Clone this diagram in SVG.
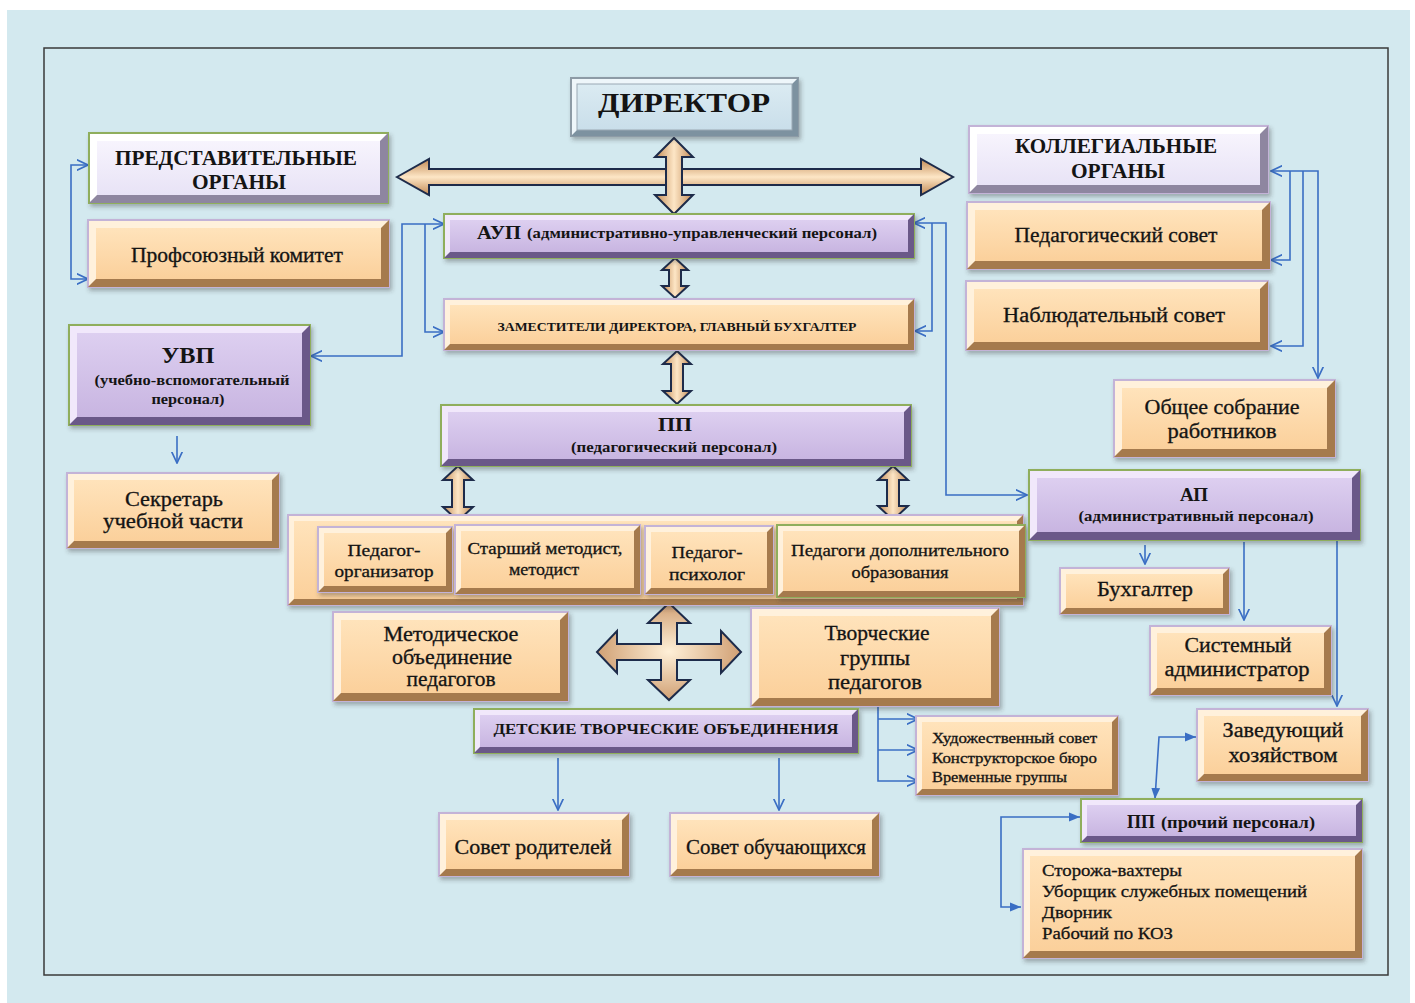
<svg xmlns="http://www.w3.org/2000/svg" width="1415" height="1003" viewBox="0 0 1415 1003">
<defs>
<style>
.hp{fill:#fff1dc;stroke:#c3b3d7;stroke-width:2}
.hu{fill:#f1e8fb;stroke:#8fae5c;stroke-width:2}
.hl{fill:#ffffff;stroke:#8fae5c;stroke-width:2}
.hl2{fill:#ffffff;stroke:#c3b3d7;stroke-width:2}
.hd{fill:#eef6fa;stroke:#8d9ba6;stroke-width:2}
.hg{fill:#fff1dc;stroke:#8fae5c;stroke-width:2}
.dp{fill:#a57a4d}.du{fill:#6a5888}.dl{fill:#8e86a0}.dd{fill:#7d92a0}
.ip{fill:url(#gP)}.iu{fill:url(#gU)}.il{fill:url(#gL)}.id{fill:url(#gD);stroke:#9aa8b3;stroke-width:1}
.sh{filter:url(#sh)}
.t{font-family:"Liberation Serif","Times New Roman",serif;fill:#141414;text-anchor:middle;stroke:#141414;stroke-width:0.3}
.tb{font-family:"Liberation Serif","Times New Roman",serif;fill:#141414;text-anchor:middle;font-weight:bold}
.tl{text-anchor:start}
.c{fill:none;stroke:#3a6ec4;stroke-width:1.6}
.ba{stroke:#1d2b4a;stroke-width:2;stroke-linejoin:miter}
</style>
<linearGradient id="gP" x1="0" y1="0" x2="0" y2="1"><stop offset="0" stop-color="#ffe3bb"/><stop offset="1" stop-color="#fbd09b"/></linearGradient>
<linearGradient id="gU" x1="0" y1="0" x2="0" y2="1"><stop offset="0" stop-color="#ddcff0"/><stop offset="1" stop-color="#c8b5e1"/></linearGradient>
<linearGradient id="gL" x1="0" y1="0" x2="0" y2="1"><stop offset="0" stop-color="#f7f4fd"/><stop offset="1" stop-color="#e8e3f6"/></linearGradient>
<linearGradient id="gD" x1="0" y1="0" x2="0" y2="1"><stop offset="0" stop-color="#dbebf2"/><stop offset="1" stop-color="#c9deea"/></linearGradient>
<linearGradient id="gAh" x1="0" y1="0" x2="0" y2="1"><stop offset="0" stop-color="#c28a55"/><stop offset="0.5" stop-color="#fde6c6"/><stop offset="1" stop-color="#c28a55"/></linearGradient>
<linearGradient id="gAv" x1="0" y1="0" x2="1" y2="0"><stop offset="0" stop-color="#c28a55"/><stop offset="0.5" stop-color="#fde6c6"/><stop offset="1" stop-color="#c28a55"/></linearGradient>
<radialGradient id="gAc" cx="0.5" cy="0.5" r="0.6"><stop offset="0" stop-color="#fff0d8"/><stop offset="1" stop-color="#c79060"/></radialGradient>
<filter id="sh" x="-10%" y="-20%" width="125%" height="150%"><feDropShadow dx="2" dy="3" stdDeviation="2" flood-color="#333" flood-opacity="0.35"/></filter>
<marker id="ao" viewBox="0 0 10 10" refX="9.5" refY="5" markerWidth="12" markerHeight="12" orient="auto-start-reverse" markerUnits="userSpaceOnUse"><path d="M0,0.5 L9.5,5 L0,9.5" fill="none" stroke="#3a6ec4" stroke-width="1.4"/></marker>
<marker id="af" viewBox="0 0 10 10" refX="10" refY="5" markerWidth="11" markerHeight="11" orient="auto-start-reverse" markerUnits="userSpaceOnUse"><path d="M0,1 L10,5 L0,9 Z" fill="#3a6ec4"/></marker>
</defs>

<rect x="0" y="0" width="1415" height="1003" fill="#ffffff"/>
<rect x="7" y="10" width="1403" height="993" fill="#d3e9ef"/>
<rect x="44" y="48" width="1344" height="927" fill="none" stroke="#3a3a3a" stroke-width="1.5"/>

<g id="connectors">
<polygon class="ba" fill="url(#gAh)" points="397,177 429,159 429,169 921,169 921,159 953,177 921,195 921,185 429,185 429,195"/>
<polygon class="ba" fill="url(#gAv)" points="674,138 693,157 682,157 682,195 693,195 674,214 655,195 666,195 666,157 655,157"/>
<polygon class="ba" fill="url(#gAv)" points="675,258 688,270 681,270 681,286 688,286 675,298 662,286 669,286 669,270 662,270"/>
<polygon class="ba" fill="url(#gAv)" points="677,351 691,364 683,364 683,391 691,391 677,404 663,391 671,391 671,364 663,364"/>
<polygon class="ba" fill="url(#gAv)" points="458,466 473,480 464,480 464,507 473,507 458,521 443,507 452,507 452,480 443,480"/>
<polygon class="ba" fill="url(#gAv)" points="893,466 908,480 899,480 899,506 908,506 893,520 878,506 887,506 887,480 878,480"/>
<polygon class="ba" fill="url(#gAc)" points="669,603 690,623 677,623 677,644 721,644 721,631 741,652 721,673 721,660 677,660 677,680 690,680 669,700 648,680 661,680 661,660 617,660 617,673 597,652 617,631 617,644 661,644 661,623 648,623"/>

<path class="c" d="M88,165 H71 V279 H88" marker-start="url(#ao)" marker-end="url(#ao)"/>
<path class="c" d="M444,224 H402 V356 H311" marker-start="url(#ao)" marker-end="url(#ao)"/>
<path class="c" d="M425,224 V332 H444" marker-end="url(#ao)"/>
<path class="c" d="M914,223 H946 V495 H1027" marker-start="url(#ao)" marker-end="url(#ao)"/>
<path class="c" d="M932,223 V331 H915" marker-end="url(#ao)"/>
<path class="c" d="M1271,171 H1318 V378" marker-start="url(#ao)" marker-end="url(#ao)" stroke-width="2"/>
<path class="c" d="M1290,171 V260 H1271" marker-end="url(#ao)"/>
<path class="c" d="M1303,171 V346 H1271" marker-end="url(#ao)"/>
<path class="c" d="M177,436 V463" marker-end="url(#ao)"/>
<path class="c" d="M1145,545 V564" marker-end="url(#ao)"/>
<path class="c" d="M1244,542 V620" marker-end="url(#ao)"/>
<path class="c" d="M1337,540 V706" marker-end="url(#ao)"/>
<path class="c" d="M878,706 V781 H918" marker-end="url(#ao)"/>
<path class="c" d="M878,719 H918" marker-end="url(#ao)"/>
<path class="c" d="M878,750 H918" marker-end="url(#ao)"/>
<path class="c" d="M558,758 V810" marker-end="url(#ao)"/>
<path class="c" d="M779,758 V810" marker-end="url(#ao)"/>
<path class="c" d="M1155,799 L1159,737 H1196" marker-start="url(#af)" marker-end="url(#af)"/>
<path class="c" d="M1080,817 H1001 V907 H1021" marker-start="url(#af)" marker-end="url(#af)"/>
</g>

<g id="n-director">
<rect class="hd sh" x="571" y="78" width="227" height="58"/>
<polygon class="dd" points="798,78 798,136 571,136 577,130 792,130 792,84"/>
<rect class="id" x="577" y="84" width="215" height="46"/>
<text class="tb" x="684" y="112" font-size="28" textLength="172" lengthAdjust="spacingAndGlyphs">ДИРЕКТОР</text>
</g>

<g id="n-rep">
<rect class="hl sh" x="89" y="133" width="299" height="70"/>
<polygon class="dl" points="388,133 388,203 89,203 97,195 380,195 380,141"/>
<rect class="il" x="97" y="141" width="283" height="54"/>
<text class="tb" x="236" y="165" font-size="20" textLength="242" lengthAdjust="spacingAndGlyphs">ПРЕДСТАВИТЕЛЬНЫЕ</text>
<text class="tb" x="239" y="189" font-size="20" textLength="94" lengthAdjust="spacingAndGlyphs">ОРГАНЫ</text>
</g>

<g id="n-prof">
<rect class="hp sh" x="88" y="220" width="301" height="67"/>
<polygon class="dp" points="389,220 389,287 88,287 96,279 381,279 381,228"/>
<rect class="ip" x="96" y="228" width="285" height="51"/>
<text class="t" x="237" y="262" font-size="20" textLength="212" lengthAdjust="spacingAndGlyphs">Профсоюзный комитет</text>
</g>

<g id="n-col">
<rect class="hl2 sh" x="969" y="126" width="299" height="67"/>
<polygon class="dl" points="1268,126 1268,193 969,193 977,185 1260,185 1260,134"/>
<rect class="il" x="977" y="134" width="283" height="51"/>
<text class="tb" x="1116" y="153" font-size="20" textLength="202" lengthAdjust="spacingAndGlyphs">КОЛЛЕГИАЛЬНЫЕ</text>
<text class="tb" x="1118" y="178" font-size="20" textLength="94" lengthAdjust="spacingAndGlyphs">ОРГАНЫ</text>
</g>

<g id="n-pedsovet">
<rect class="hp sh" x="967" y="202" width="303" height="67"/>
<polygon class="dp" points="1270,202 1270,269 967,269 975,261 1262,261 1262,210"/>
<rect class="ip" x="975" y="210" width="287" height="51"/>
<text class="t" x="1116" y="242" font-size="20" textLength="203" lengthAdjust="spacingAndGlyphs">Педагогический совет</text>
</g>

<g id="n-nabsovet">
<rect class="hp sh" x="966" y="281" width="302" height="69"/>
<polygon class="dp" points="1268,281 1268,350 966,350 974,342 1260,342 1260,289"/>
<rect class="ip" x="974" y="289" width="286" height="53"/>
<text class="t" x="1114" y="322" font-size="20" textLength="222" lengthAdjust="spacingAndGlyphs">Наблюдательный совет</text>
</g>

<g id="n-obsh">
<rect class="hp sh" x="1114" y="380" width="221" height="77"/>
<polygon class="dp" points="1335,380 1335,457 1114,457 1122,449 1327,449 1327,388"/>
<rect class="ip" x="1122" y="388" width="205" height="61"/>
<text class="t" x="1222" y="414" font-size="20" textLength="155" lengthAdjust="spacingAndGlyphs">Общее собрание</text>
<text class="t" x="1222" y="438" font-size="20" textLength="109" lengthAdjust="spacingAndGlyphs">работников</text>
</g>

<g id="n-aup">
<rect class="hu sh" x="444" y="214" width="470" height="44"/>
<polygon class="du" points="914,214 914,258 444,258 450,252 908,252 908,220"/>
<rect class="iu" x="450" y="220" width="458" height="32"/>
<text class="tb tl" x="477" y="239" font-size="19" textLength="44" lengthAdjust="spacingAndGlyphs">АУП</text>
<text class="tb tl" x="527" y="238" font-size="14" textLength="350" lengthAdjust="spacingAndGlyphs">(административно-управленческий  персонал)</text>
</g>

<g id="n-zam">
<rect class="hp sh" x="444" y="299" width="470" height="51"/>
<polygon class="dp" points="914,299 914,350 444,350 450,344 908,344 908,305"/>
<rect class="ip" x="450" y="305" width="458" height="39"/>
<text class="tb" x="677" y="331" font-size="13" textLength="359" lengthAdjust="spacingAndGlyphs">ЗАМЕСТИТЕЛИ  ДИРЕКТОРА,  ГЛАВНЫЙ  БУХГАЛТЕР</text>
</g>

<g id="n-uvp">
<rect class="hu sh" x="69" y="325" width="241" height="100"/>
<polygon class="du" points="310,325 310,425 69,425 77,417 302,417 302,333"/>
<rect class="iu" x="77" y="333" width="225" height="84"/>
<text class="tb" x="188" y="363" font-size="23" textLength="53" lengthAdjust="spacingAndGlyphs">УВП</text>
<text class="tb" x="192" y="385" font-size="14" textLength="195" lengthAdjust="spacingAndGlyphs">(учебно-вспомогательный</text>
<text class="tb" x="188" y="404" font-size="14" textLength="73" lengthAdjust="spacingAndGlyphs">персонал)</text>
</g>

<g id="n-sekr">
<rect class="hp sh" x="67" y="473" width="212" height="75"/>
<polygon class="dp" points="279,473 279,548 67,548 74,541 272,541 272,480"/>
<rect class="ip" x="74" y="480" width="198" height="61"/>
<text class="t" x="174" y="506" font-size="20" textLength="98" lengthAdjust="spacingAndGlyphs">Секретарь</text>
<text class="t" x="173" y="528" font-size="20" textLength="140" lengthAdjust="spacingAndGlyphs">учебной части</text>
</g>

<g id="n-pp">
<rect class="hu sh" x="441" y="405" width="470" height="61"/>
<polygon class="du" points="911,405 911,466 441,466 448,459 904,459 904,412"/>
<rect class="iu" x="448" y="412" width="456" height="47"/>
<text class="tb" x="675" y="431" font-size="19" textLength="34" lengthAdjust="spacingAndGlyphs">ПП</text>
<text class="tb" x="674" y="452" font-size="14" textLength="206" lengthAdjust="spacingAndGlyphs">(педагогический  персонал)</text>
</g>

<g id="n-staff">
<rect class="hp sh" x="288" y="515" width="735" height="90"/>
<polygon class="dp" points="1023,515 1023,605 288,605 294,599 1017,599 1017,521"/>
<rect class="ip" x="294" y="521" width="723" height="78"/>
</g>

<g id="n-org">
<rect class="hp sh" x="318" y="527" width="134" height="65"/>
<polygon class="dp" points="452,527 452,592 318,592 324,586 446,586 446,533"/>
<rect class="ip" x="324" y="533" width="122" height="53"/>
<text class="t" x="384" y="556" font-size="17" textLength="73" lengthAdjust="spacingAndGlyphs">Педагог-</text>
<text class="t" x="384" y="577" font-size="17" textLength="99" lengthAdjust="spacingAndGlyphs">организатор</text>
</g>

<g id="n-metodist">
<rect class="hp sh" x="455" y="525" width="185" height="69"/>
<polygon class="dp" points="640,525 640,594 455,594 461,588 634,588 634,531"/>
<rect class="ip" x="461" y="531" width="173" height="57"/>
<text class="t" x="545" y="554" font-size="17" textLength="155" lengthAdjust="spacingAndGlyphs">Старший методист,</text>
<text class="t" x="544" y="575" font-size="17" textLength="70" lengthAdjust="spacingAndGlyphs">методист</text>
</g>

<g id="n-psych">
<rect class="hp sh" x="645" y="526" width="128" height="68"/>
<polygon class="dp" points="773,526 773,594 645,594 651,588 767,588 767,532"/>
<rect class="ip" x="651" y="532" width="116" height="56"/>
<text class="t" x="707" y="558" font-size="17" textLength="71" lengthAdjust="spacingAndGlyphs">Педагог-</text>
<text class="t" x="707" y="580" font-size="17" textLength="76" lengthAdjust="spacingAndGlyphs">психолог</text>
</g>

<g id="n-dop">
<rect class="hg sh" x="777" y="525" width="248" height="72"/>
<polygon class="dp" points="1025,525 1025,597 777,597 783,591 1019,591 1019,531"/>
<rect class="ip" x="783" y="531" width="236" height="60"/>
<text class="t" x="900" y="556" font-size="17" textLength="218" lengthAdjust="spacingAndGlyphs">Педагоги дополнительного</text>
<text class="t" x="900" y="578" font-size="17" textLength="97" lengthAdjust="spacingAndGlyphs">образования</text>
</g>

<g id="n-metob">
<rect class="hp sh" x="333" y="612" width="235" height="89"/>
<polygon class="dp" points="568,612 568,701 333,701 341,693 560,693 560,620"/>
<rect class="ip" x="341" y="620" width="219" height="73"/>
<text class="t" x="451" y="641" font-size="20" textLength="135" lengthAdjust="spacingAndGlyphs">Методическое</text>
<text class="t" x="452" y="664" font-size="20" textLength="120" lengthAdjust="spacingAndGlyphs">объединение</text>
<text class="t" x="451" y="686" font-size="20" textLength="89" lengthAdjust="spacingAndGlyphs">педагогов</text>
</g>

<g id="n-tvor">
<rect class="hp sh" x="751" y="608" width="248" height="98"/>
<polygon class="dp" points="999,608 999,706 751,706 759,698 991,698 991,616"/>
<rect class="ip" x="759" y="616" width="232" height="82"/>
<text class="t" x="877" y="640" font-size="20" textLength="105" lengthAdjust="spacingAndGlyphs">Творческие</text>
<text class="t" x="875" y="665" font-size="20" textLength="70" lengthAdjust="spacingAndGlyphs">группы</text>
<text class="t" x="875" y="689" font-size="20" textLength="94" lengthAdjust="spacingAndGlyphs">педагогов</text>
</g>

<g id="n-det">
<rect class="hu sh" x="474" y="709" width="384" height="44"/>
<polygon class="du" points="858,709 858,753 474,753 480,747 852,747 852,715"/>
<rect class="iu" x="480" y="715" width="372" height="32"/>
<text class="tb" x="666" y="734" font-size="15" textLength="345" lengthAdjust="spacingAndGlyphs">ДЕТСКИЕ  ТВОРЧЕСКИЕ  ОБЪЕДИНЕНИЯ</text>
</g>

<g id="n-sovrod">
<rect class="hp sh" x="439" y="813" width="190" height="63"/>
<polygon class="dp" points="629,813 629,876 439,876 446,869 622,869 622,820"/>
<rect class="ip" x="446" y="820" width="176" height="49"/>
<text class="t" x="533" y="854" font-size="20" textLength="157" lengthAdjust="spacingAndGlyphs">Совет родителей</text>
</g>

<g id="n-sovob">
<rect class="hp sh" x="670" y="813" width="209" height="63"/>
<polygon class="dp" points="879,813 879,876 670,876 677,869 872,869 872,820"/>
<rect class="ip" x="677" y="820" width="195" height="49"/>
<text class="t" x="776" y="854" font-size="20" textLength="180" lengthAdjust="spacingAndGlyphs">Совет обучающихся</text>
</g>

<g id="n-hud">
<rect class="hp sh" x="916" y="716" width="202" height="79"/>
<polygon class="dp" points="1118,716 1118,795 916,795 922,789 1112,789 1112,722"/>
<rect class="ip" x="922" y="722" width="190" height="67"/>
<text class="t tl" x="932" y="743" font-size="14" textLength="165" lengthAdjust="spacingAndGlyphs">Художественный   совет</text>
<text class="t tl" x="932" y="763" font-size="14" textLength="165" lengthAdjust="spacingAndGlyphs">Конструкторское   бюро</text>
<text class="t tl" x="932" y="782" font-size="14" textLength="135" lengthAdjust="spacingAndGlyphs">Временные   группы</text>
</g>

<g id="n-ap">
<rect class="hu sh" x="1029" y="470" width="331" height="70"/>
<polygon class="du" points="1360,470 1360,540 1029,540 1037,532 1352,532 1352,478"/>
<rect class="iu" x="1037" y="478" width="315" height="54"/>
<text class="tb" x="1194" y="501" font-size="18" textLength="28" lengthAdjust="spacingAndGlyphs">АП</text>
<text class="tb" x="1196" y="521" font-size="14" textLength="235" lengthAdjust="spacingAndGlyphs">(административный  персонал)</text>
</g>

<g id="n-buh">
<rect class="hp sh" x="1060" y="568" width="169" height="46"/>
<polygon class="dp" points="1229,568 1229,614 1060,614 1066,608 1223,608 1223,574"/>
<rect class="ip" x="1066" y="574" width="157" height="34"/>
<text class="t" x="1145" y="596" font-size="20" textLength="96" lengthAdjust="spacingAndGlyphs">Бухгалтер</text>
</g>

<g id="n-sys">
<rect class="hp sh" x="1150" y="626" width="181" height="69"/>
<polygon class="dp" points="1331,626 1331,695 1150,695 1157,688 1324,688 1324,633"/>
<rect class="ip" x="1157" y="633" width="167" height="55"/>
<text class="t" x="1238" y="652" font-size="20" textLength="107" lengthAdjust="spacingAndGlyphs">Системный</text>
<text class="t" x="1237" y="676" font-size="20" textLength="145" lengthAdjust="spacingAndGlyphs">администратор</text>
</g>

<g id="n-zav">
<rect class="hp sh" x="1197" y="709" width="171" height="72"/>
<polygon class="dp" points="1368,709 1368,781 1197,781 1204,774 1361,774 1361,716"/>
<rect class="ip" x="1204" y="716" width="157" height="58"/>
<text class="t" x="1283" y="737" font-size="20" textLength="121" lengthAdjust="spacingAndGlyphs">Заведующий</text>
<text class="t" x="1283" y="762" font-size="20" textLength="109" lengthAdjust="spacingAndGlyphs">хозяйством</text>
</g>

<g id="n-ppr">
<rect class="hu sh" x="1081" y="799" width="281" height="43"/>
<polygon class="du" points="1362,799 1362,842 1081,842 1087,836 1356,836 1356,805"/>
<rect class="iu" x="1087" y="805" width="269" height="31"/>
<text class="tb tl" x="1127" y="828" font-size="18" textLength="28" lengthAdjust="spacingAndGlyphs">ПП</text>
<text class="tb tl" x="1161" y="828" font-size="16" textLength="154" lengthAdjust="spacingAndGlyphs">(прочий  персонал)</text>
</g>

<g id="n-stor">
<rect class="hp sh" x="1023" y="849" width="339" height="109"/>
<polygon class="dp" points="1362,849 1362,958 1023,958 1030,951 1355,951 1355,856"/>
<rect class="ip" x="1030" y="856" width="325" height="95"/>
<text class="t tl" x="1042" y="876" font-size="17" textLength="140" lengthAdjust="spacingAndGlyphs">Сторожа-вахтеры</text>
<text class="t tl" x="1042" y="897" font-size="17" textLength="265" lengthAdjust="spacingAndGlyphs">Уборщик служебных помещений</text>
<text class="t tl" x="1042" y="918" font-size="17" textLength="70" lengthAdjust="spacingAndGlyphs">Дворник</text>
<text class="t tl" x="1042" y="939" font-size="17" textLength="131" lengthAdjust="spacingAndGlyphs">Рабочий по КОЗ</text>
</g>
</svg>
